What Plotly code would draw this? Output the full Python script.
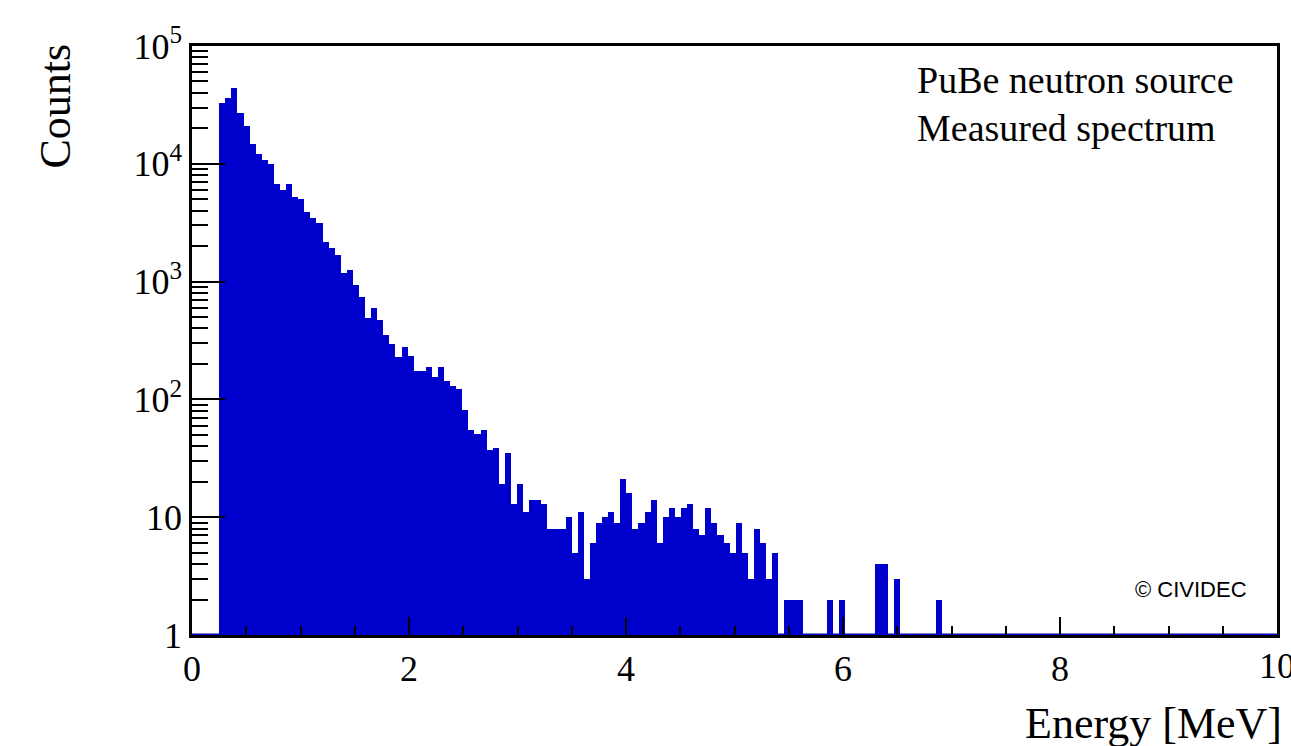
import plotly.graph_objects as go

# ---- data ----
bin_lo = 0.251       # MeV, lower edge of first listed bin
bin_width = 0.056    # MeV
counts = [
    32540, 35890, 44160, 26740, 20840, 14650, 12050, 10860, 9900, 6780,
    6030, 6780, 5220, 4990, 3920, 3480, 3135, 2178, 1936, 1698,
    1177, 1259, 943, 745, 487, 598, 475, 352, 298, 230,
    276, 234, 173, 175, 190, 156, 190, 142, 130, 122,
    81, 55, 51, 55, 37, 39, 19, 35, 13, 19,
    11, 14, 14, 13, 8, 8, 8, 10, 5, 11,
    3, 6, 9, 10, 11, 9, 21, 16, 8, 9,
    11, 14, 6, 10, 12, 10, 12, 13, 8, 7,
    12, 9, 7, 6, 5, 9, 5, 3, 8, 6,
    3, 5, 0, 2, 2, 2, 0, 0, 0, 0,
    2, 0, 2, 0, 0, 0, 0, 0, 4, 4,
    0, 3, 0, 0, 0, 0, 0, 0, 2,
]
y_tickvals = [1, 10, 100, 1000, 10000, 100000]
y_ticktext = ["1", "10", "10<sup>2</sup>", "10<sup>3</sup>", "10<sup>4</sup>", "10<sup>5</sup>"]
x_tickvals = [0, 2, 4, 6, 8]
x_ticktext = ["0", "2", "4", "6", "8"]
x_last_tick = 10

centers = [bin_lo + (i + 0.5) * bin_width for i in range(len(counts))]
yvals = [c if c > 0 else None for c in counts]
minor_y = [m * 10 ** e for e in range(0, 5) for m in range(2, 10)]
minor_x = [i * 0.5 for i in range(0, 21)]

BLUE = "rgb(0,0,204)"
SERIF = "Liberation Serif, Times New Roman, serif"

fig = go.Figure()
fig.add_trace(go.Scatter(
    x=[0, 10], y=[1, 1], mode="lines",
    line=dict(color=BLUE, width=3), cliponaxis=False,
    hoverinfo="skip", showlegend=False))
fig.add_trace(go.Bar(
    x=centers, y=yvals, width=bin_width,
    marker=dict(color=BLUE, line=dict(width=0)),
    showlegend=False))

fig.update_layout(
    width=1291, height=746,
    margin=dict(l=192, r=11, t=46, b=111),
    paper_bgcolor="white", plot_bgcolor="white",
    bargap=0,
    font=dict(family=SERIF, color="black", size=36),
    xaxis=dict(
        range=[0, 10], showgrid=False, zeroline=False,
        showline=True, linecolor="black", linewidth=2.5, mirror=True,
        ticks="inside", ticklen=18, tickwidth=2, tickcolor="black",
        tickmode="array", tickvals=x_tickvals, ticktext=x_ticktext,
        tickfont=dict(family=SERIF, size=36),
        minor=dict(tickmode="array", tickvals=minor_x, ticks="inside",
                   ticklen=9, tickwidth=2, tickcolor="black", showgrid=False),
    ),
    yaxis=dict(
        type="log", range=[0, 5], showgrid=False, zeroline=False,
        showline=True, linecolor="black", linewidth=2.5, mirror=True,
        ticks="inside", ticklen=33, tickwidth=2, tickcolor="black",
        tickmode="array", tickvals=y_tickvals, ticktext=y_ticktext,
        tickfont=dict(family=SERIF, size=36),
        minor=dict(tickmode="array", tickvals=minor_y, ticks="inside",
                   ticklen=16, tickwidth=2, tickcolor="black", showgrid=False),
    ),
    annotations=[
        dict(text=str(x_last_tick), xref="x", yref="paper",
             x=x_last_tick, y=-0.052, xanchor="center", yanchor="middle",
             showarrow=False, font=dict(family=SERIF, size=36)),
        dict(text="PuBe neutron source", xref="paper", yref="paper",
             x=0.666, y=0.942, xanchor="left", yanchor="middle",
             showarrow=False, font=dict(family=SERIF, size=38)),
        dict(text="Measured spectrum", xref="paper", yref="paper",
             x=0.666, y=0.861, xanchor="left", yanchor="middle",
             showarrow=False, font=dict(family=SERIF, size=38)),
        dict(text="© CIVIDEC", xref="paper", yref="paper",
             x=0.921, y=0.078, xanchor="center", yanchor="middle",
             showarrow=False,
             font=dict(family="Liberation Sans, Arial, sans-serif", size=22)),
        dict(text="Counts", xref="paper", yref="paper",
             x=-0.1259, y=0.898, xanchor="center", yanchor="middle",
             textangle=-90, showarrow=False,
             font=dict(family=SERIF, size=44)),
        dict(text="Energy [MeV]", xref="paper", yref="paper",
             x=1.006, y=-0.151, xanchor="right", yanchor="middle",
             showarrow=False, font=dict(family=SERIF, size=44)),
    ],
)

fig.write_html("out.html")
